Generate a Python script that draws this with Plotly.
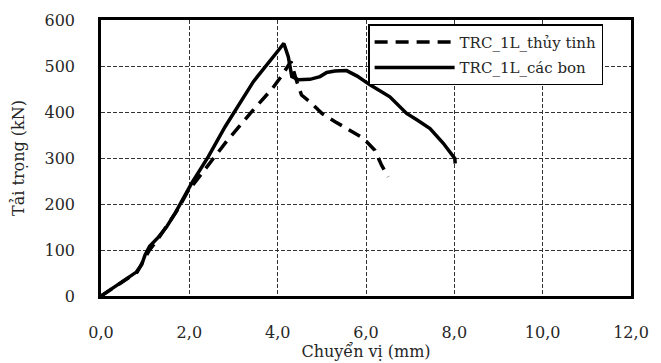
import plotly.graph_objects as go

# Data
carbon_x = [0, 0.43, 0.8, 0.92, 1.0, 1.1, 1.3, 1.49, 1.68, 2.05, 2.43, 2.81, 3.0, 3.45, 4.0, 4.14,
            4.24, 4.32, 4.47, 4.73, 4.96, 5.11, 5.3, 5.56, 5.8, 6.09, 6.54, 6.77, 6.92, 7.15,
            7.45, 7.75, 8.01, 8.02]
carbon_y = [0, 29, 52, 68, 90, 108, 128, 151, 180, 245, 303, 368, 397, 466, 532, 549,
            520, 477, 470, 471, 477, 486, 489, 490, 478, 459, 433, 412, 397, 383,
            364, 332, 299, 288]

glass_x = [0, 0.43, 0.82, 0.95, 1.1, 1.3, 1.55, 1.75, 1.95, 2.4, 2.85, 3.37, 3.87, 4.1, 4.3,
           4.42, 4.54, 4.73, 5.0, 5.3, 5.64, 5.94, 6.2, 6.35, 6.5]
glass_y = [0, 27, 52, 75, 100, 125, 160, 190, 225, 280, 337, 396, 450, 480, 510,
           470, 437, 422, 397, 379, 361, 343, 317, 285, 259]

x_ticks = [0, 2, 4, 6, 8, 10, 12]
x_tick_labels = ["0,0", "2,0", "4,0", "6,0", "8,0", "10,0", "12,0"]
y_ticks = [0, 100, 200, 300, 400, 500, 600]

FONT = "DejaVu Serif"

fig = go.Figure()
fig.add_trace(go.Scatter(
    x=glass_x, y=glass_y, mode="lines", name="TRC_1L_thủy tinh", legendgroup="g",
    line=dict(color="black", width=3.5, dash="13px,8px"),
))
fig.add_trace(go.Scatter(
    x=carbon_x, y=carbon_y, mode="lines", name="TRC_1L_các bon", legendgroup="c",
    line=dict(color="black", width=3.5),
))

fig.update_layout(
    width=661, height=363,
    margin=dict(l=101, r=30, t=20, b=67),
    paper_bgcolor="white", plot_bgcolor="white",
    font=dict(family=FONT, size=16, color="#262626"),
    showlegend=True,
    legend=dict(
        x=0.504, y=0.985, xanchor="left", yanchor="top",
        bgcolor="white", bordercolor="black", borderwidth=1.5,
        font=dict(family=FONT, size=15, color="#262626"),
        itemwidth=80, traceorder="grouped", tracegroupgap=3,
    ),
    xaxis=dict(
        range=[0, 12], tickvals=x_ticks, ticktext=x_tick_labels,
        showline=True, linecolor="black", linewidth=2.5, mirror=True,
        showgrid=True, gridcolor="#333", gridwidth=1, griddash="4px,2px",
        zeroline=False, ticks="", ticklabelstandoff=20, automargin=False,
        title=dict(text="Chuyển vị (mm)", standoff=4, font=dict(size=16)),
    ),
    yaxis=dict(
        range=[0, 600], tickvals=y_ticks,
        showline=True, linecolor="black", linewidth=2.5, mirror=True,
        showgrid=True, gridcolor="#333", gridwidth=1, griddash="4px,2px",
        zeroline=False, ticks="", ticklabelstandoff=20, automargin=False,
        title=dict(text="Tải trọng (kN)", standoff=16, font=dict(size=16)),
    ),
)

fig.write_html("out.html")
